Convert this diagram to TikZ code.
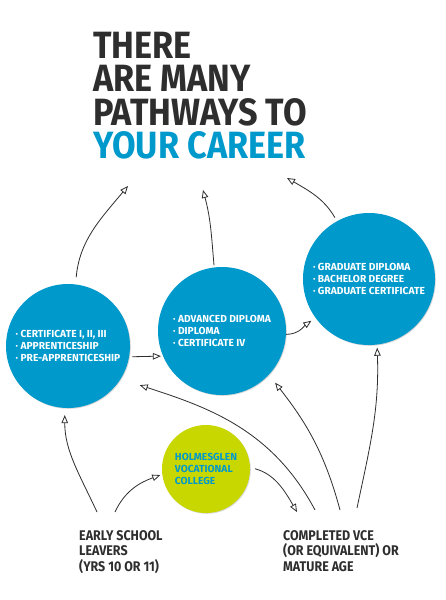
\documentclass[tikz,border=0pt]{standalone}
\usepackage{fontspec}
\setmainfont{Fira Sans}
\newfontfamily\headfont[FakeStretch=0.9]{Fira Sans}
\newfontfamily\condfont[FakeStretch=0.89]{Fira Sans}
\newfontfamily\bubblefont[FakeStretch=1.0]{Fira Sans}
\usetikzlibrary{arrows.meta,shadows}

\definecolor{hgblue}{HTML}{0099CC}
\definecolor{hglime}{HTML}{C9D700}
\definecolor{hgdark}{HTML}{2E2E2E}

\begin{document}
\begin{tikzpicture}[
    x=1pt, y=-1pt,
    every node/.style={font=\condfont\bfseries},
    bubble/.style={circle, fill=#1, inner sep=0pt, align=left, text=white,
      font=\bubblefont\bfseries\fontsize{10.2}{12}\selectfont,
      drop shadow={opacity=0.3, shadow xshift=0.8pt, shadow yshift=-0.8pt}},
    bubble/.default={hgblue},
    headline/.style={anchor=north west, inner sep=0pt, align=left, text=hgdark,
      font=\headfont\bfseries\fontsize{38}{33.3}\selectfont},
    startlabel/.style={anchor=north west, inner sep=0pt, align=left, text=hgdark,
      font=\condfont\bfseries\fontsize{14}{15.5}\selectfont},
    pathway/.style={draw=hgdark, line width=0.8pt,
      -{Triangle[open, length=8pt, width=6.5pt, line width=0.8pt]}},
  ]
    % Canvas: 445 x 600, y runs downwards
    \fill[white] (0,0) rectangle (445,600);
    \useasboundingbox (0,0) rectangle (445,600);

    % Title
    \node[headline] (head) at (93,32)
      {THERE\\ARE MANY\\PATHWAYS TO\\\textcolor{hgblue}{YOUR CAREER}};

    % Qualification circles
    \node[bubble, minimum size=124pt] (cert) at (68,346)
      {\textperiodcentered\ CERTIFICATE I, II, III\\
       \textperiodcentered\ APPRENTICESHIP\\
       \textperiodcentered\ PRE-APPRENTICESHIP};
    \node[bubble, minimum size=128pt] (dipl) at (222,331)
      {\textperiodcentered\ ADVANCED DIPLOMA\\
       \textperiodcentered\ DIPLOMA\\
       \textperiodcentered\ CERTIFICATE IV};
    \node[bubble, minimum size=132pt] (grad) at (369,279)
      {\textperiodcentered\ GRADUATE DIPLOMA\\
       \textperiodcentered\ BACHELOR DEGREE\\
       \textperiodcentered\ GRADUATE CERTIFICATE};
    \node[bubble=hglime, minimum size=88pt, text=hgblue] (holm) at (206,469)
      {HOLMESGLEN\\VOCATIONAL\\COLLEGE};

    % Starting points
    \node[startlabel] (early) at (79,530) {EARLY SCHOOL\\LEAVERS\\(YRS 10 OR 11)};
    \node[startlabel] (vce) at (283,530) {COMPLETED VCE\\(OR EQUIVALENT) OR\\MATURE AGE};

    % Free ends below the title
    \coordinate (tipA) at (128,186);
    \coordinate (tipB) at (203,190);
    \coordinate (tipC) at (287,178);

    % Circles up to the career
    \draw[pathway, shorten <=7pt] (cert.83) to[out=85, in=230] (tipA);
    \draw[pathway, shorten <=2pt] (dipl.97) to[out=95, in=-75] (tipB);
    \draw[pathway, shorten <=4pt] (grad.119) to[out=120, in=-30] (tipC);

    % Between circles
    \draw[pathway, shorten <=3pt, shorten >=2pt] (cert.-10) -- (dipl.203);
    \draw[pathway, shorten >=5pt] (dipl.-3) to[out=0, in=215] (grad.216);

    % Early school leavers
    \draw[pathway, shorten >=7pt] ([xshift=18pt, yshift=18pt]early.north west)
      to[out=115, in=270] (cert.267);
    \draw[pathway, shorten >=2pt] ([xshift=36pt, yshift=18pt]early.north west)
      to[out=65, in=200] (holm.187);

    % Holmesglen to completed VCE
    \draw[pathway, shorten <=5pt] (holm.2)
      to[out=-15, in=120] ([xshift=14pt, yshift=18pt]vce.north west);

    % Completed VCE or mature age
    \draw[pathway, shorten >=20pt] ([xshift=32pt, yshift=20pt]vce.north west)
      to[out=118, in=-18] (cert.-32);
    \draw[pathway, shorten >=10pt] ([xshift=57pt, yshift=20pt]vce.north west)
      to[out=105, in=-52] (dipl.-43);
    \draw[pathway, shorten >=3pt] ([xshift=74pt, yshift=22pt]vce.north west)
      to[out=78, in=-88] (grad.-83);

  \end{tikzpicture}
\end{document}
